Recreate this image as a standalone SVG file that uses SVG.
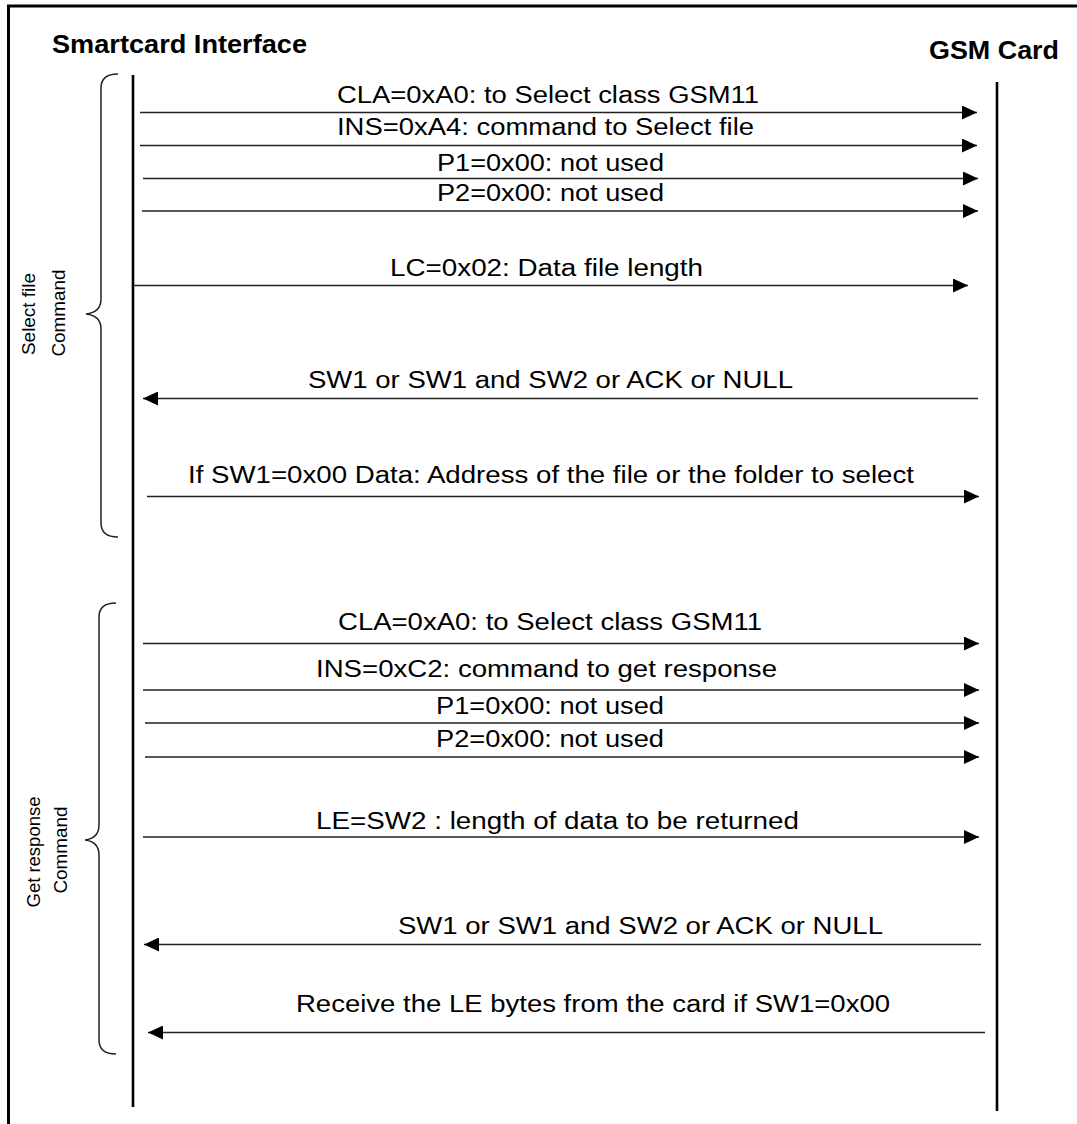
<svg xmlns="http://www.w3.org/2000/svg" width="1077" height="1124" viewBox="0 0 1077 1124">
<style>
text{font-family:"Liberation Sans",Arial,Helvetica,sans-serif;fill:#000}
.hdr{font-size:25px;font-weight:bold}
.msg{font-size:23px}
.grp{font-size:18.5px}
.ln{stroke:#222;stroke-width:1.6;fill:none}
.life{stroke:#000;stroke-width:2.6;fill:none}
.brace{stroke:#222;stroke-width:1.5;fill:none}
.frame{stroke:#000;stroke-width:3;fill:none}
</style>
<defs>
<marker id="ah" markerUnits="userSpaceOnUse" markerWidth="15" markerHeight="14" refX="15" refY="7" orient="auto">
<path d="M0,0 L15,7 L0,14 Z" fill="#000"/>
</marker>
</defs>
<rect width="1077" height="1124" fill="#fff"/>
<g id="frame">
<path class="frame" d="M8.5,1124 L8.5,6 L1077,6"/>
</g>
<g id="smartcard-interface">
<text class="hdr" x="52" y="53" textLength="255" lengthAdjust="spacingAndGlyphs">Smartcard Interface</text>
<line class="life" x1="133" y1="75" x2="133" y2="1107"/>
</g>
<g id="gsm-card">
<text class="hdr" x="929" y="59" textLength="130" lengthAdjust="spacingAndGlyphs">GSM Card</text>
<line class="life" x1="997" y1="82" x2="997" y2="1111"/>
</g>
<g id="select-file-command">
<path class="brace" d="M118,74 C108,74 101,77 101,88 L101,299 C101,309 95,313 86,314 C95,315 101,319 101,329 L101,523 C101,533 108,537 118,537"/>
<text class="grp" transform="translate(35,314) rotate(-90)" text-anchor="middle" textLength="82" lengthAdjust="spacingAndGlyphs">Select file</text>
<text class="grp" transform="translate(65,313) rotate(-90)" text-anchor="middle" textLength="87" lengthAdjust="spacingAndGlyphs">Command</text>
</g>
<g id="get-response-command">
<path class="brace" d="M116,603 C106,603 99,606 99,617 L99,825 C99,835 93,839 85,840 C93,841 99,845 99,855 L99,1040 C99,1050 106,1054 116,1054"/>
<text class="grp" transform="translate(40,852) rotate(-90)" text-anchor="middle" textLength="111" lengthAdjust="spacingAndGlyphs">Get response</text>
<text class="grp" transform="translate(67,850) rotate(-90)" text-anchor="middle" textLength="87" lengthAdjust="spacingAndGlyphs">Command</text>
</g>
<g id="connectors">
<g id="m1"><line class="ln" x1="140" y1="112.5" x2="977" y2="112.5" marker-end="url(#ah)"/>
<text class="msg" x="337" y="103" textLength="422" lengthAdjust="spacingAndGlyphs">CLA=0xA0: to Select class GSM11</text></g>
<g id="m2"><line class="ln" x1="140" y1="145.5" x2="977" y2="145.5" marker-end="url(#ah)"/>
<text class="msg" x="337" y="135" textLength="417" lengthAdjust="spacingAndGlyphs">INS=0xA4: command to Select file</text></g>
<g id="m3"><line class="ln" x1="143" y1="178.5" x2="978" y2="178.5" marker-end="url(#ah)"/>
<text class="msg" x="437" y="171" textLength="227" lengthAdjust="spacingAndGlyphs">P1=0x00: not used</text></g>
<g id="m4"><line class="ln" x1="142" y1="211" x2="978" y2="211" marker-end="url(#ah)"/>
<text class="msg" x="437" y="201" textLength="227" lengthAdjust="spacingAndGlyphs">P2=0x00: not used</text></g>
<g id="m5"><line class="ln" x1="133" y1="285.5" x2="968" y2="285.5" marker-end="url(#ah)"/>
<text class="msg" x="390" y="276" textLength="313" lengthAdjust="spacingAndGlyphs">LC=0x02: Data file length</text></g>
<g id="m6"><line class="ln" x1="978" y1="398.5" x2="143" y2="398.5" marker-end="url(#ah)"/>
<text class="msg" x="308" y="388" textLength="485" lengthAdjust="spacingAndGlyphs">SW1 or SW1 and SW2 or ACK or NULL</text></g>
<g id="m7"><line class="ln" x1="147" y1="496.5" x2="979" y2="496.5" marker-end="url(#ah)"/>
<text class="msg" x="188" y="483" textLength="726" lengthAdjust="spacingAndGlyphs">If SW1=0x00 Data: Address of the file or the folder to select</text></g>
<g id="m8"><line class="ln" x1="143" y1="643.5" x2="979" y2="643.5" marker-end="url(#ah)"/>
<text class="msg" x="338" y="630" textLength="424" lengthAdjust="spacingAndGlyphs">CLA=0xA0: to Select class GSM11</text></g>
<g id="m9"><line class="ln" x1="143" y1="690" x2="979" y2="690" marker-end="url(#ah)"/>
<text class="msg" x="316" y="677" textLength="461" lengthAdjust="spacingAndGlyphs">INS=0xC2: command to get response</text></g>
<g id="m10"><line class="ln" x1="145" y1="723" x2="979" y2="723" marker-end="url(#ah)"/>
<text class="msg" x="436" y="714" textLength="228" lengthAdjust="spacingAndGlyphs">P1=0x00: not used</text></g>
<g id="m11"><line class="ln" x1="145" y1="757" x2="979" y2="757" marker-end="url(#ah)"/>
<text class="msg" x="436" y="747" textLength="228" lengthAdjust="spacingAndGlyphs">P2=0x00: not used</text></g>
<g id="m12"><line class="ln" x1="143" y1="837" x2="979" y2="837" marker-end="url(#ah)"/>
<text class="msg" x="316" y="829" textLength="483" lengthAdjust="spacingAndGlyphs">LE=SW2 : length of data to be returned</text></g>
<g id="m13"><line class="ln" x1="981" y1="944.5" x2="144" y2="944.5" marker-end="url(#ah)"/>
<text class="msg" x="398" y="934" textLength="485" lengthAdjust="spacingAndGlyphs">SW1 or SW1 and SW2 or ACK or NULL</text></g>
<g id="m14"><line class="ln" x1="985" y1="1032.5" x2="148" y2="1032.5" marker-end="url(#ah)"/>
<text class="msg" x="296" y="1012" textLength="594" lengthAdjust="spacingAndGlyphs">Receive the LE bytes from the card if SW1=0x00</text></g>
</g>
</svg>
